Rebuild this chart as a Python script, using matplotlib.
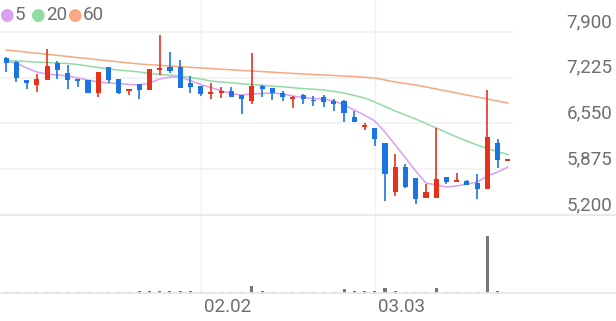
import matplotlib
matplotlib.use("Agg")
import matplotlib.pyplot as plt
import matplotlib.transforms as mtrans
import numpy as np

plt.rcParams['font.family'] = ['Roboto', 'DejaVu Sans']

# daily candles (open, high, low, close)
opens = [7520, 7460, 7190, 7120, 7190, 7440, 7300, 7210, 7190, 7000,
         7380, 7210, 7030, 7130, 7040, 7350, 7380, 7380, 7150, 7110,
         7000, 7000, 7030, 6970, 6880, 7100, 7070, 7000, 6930, 6970,
         6910, 6940, 6880, 6880, 6650, 6510, 6480, 6260, 5540, 5910,
         5750, 5450, 5450, 5760, 5700, 5700, 5670, 5580, 6260, 6010]
highs = [7530, 7470, 7190, 7280, 7650, 7470, 7410, 7210, 7190, 7310,
         7390, 7210, 7060, 7130, 7360, 7860, 7600, 7490, 7250, 7110,
         7150, 7090, 7090, 6970, 7590, 7120, 7080, 7030, 6950, 6980,
         6960, 6970, 6910, 6890, 6730, 6560, 6490, 6260, 6100, 5950,
         5750, 5660, 6480, 5760, 5820, 5710, 5800, 7040, 6320, 6010]
lows = [7310, 7160, 7060, 7010, 7190, 7200, 7060, 7090, 7000, 6940,
        7150, 6980, 6970, 6910, 7040, 7270, 7300, 7070, 7000, 6950,
        6910, 6930, 6940, 6690, 6840, 6940, 6900, 6880, 6780, 6840,
        6810, 6790, 6730, 6570, 6570, 6450, 6220, 5410, 5480, 5600,
        5360, 5450, 5450, 5660, 5700, 5640, 5440, 5580, 5890, 6010]
closes = [7440, 7220, 7150, 7210, 7400, 7340, 7190, 7180, 7000, 7310,
          7190, 7000, 7060, 7040, 7350, 7360, 7330, 7070, 7090, 6980,
          7010, 7030, 6940, 6910, 7100, 7060, 7000, 6940, 6940, 6910,
          6890, 6870, 6840, 6700, 6570, 6520, 6320, 5800, 5910, 5610,
          5440, 5540, 5730, 5690, 5710, 5640, 5580, 6350, 6010, 6010]
volumes = [44000, 40000, 40000, 42000, 44000, 44000, 60000, 44000, 44000, 44000,
           44000, 44000, 44000, 88000, 88000, 88000, 88000, 88000, 88000, 44000,
           44000, 40000, 40000, 44000, 307000, 88000, 44000, 40000, 40000, 40000,
           40000, 40000, 44000, 190000, 88000, 88000, 88000, 205000, 88000, 44000,
           40000, 44000, 205000, 44000, 40000, 40000, 44000, 2500000, 100000, 0]

# moving averages as drawn
ma5 = [7472, 7443, 7369, 7310, 7280, 7266, 7251, 7221, 7192, 7162,
       7148, 7140, 7125, 7118, 7148, 7207, 7236, 7236, 7184, 7125,
       7081, 7030, 6993, 6970, 6985, 6993, 7000, 6985, 6956, 6934,
       6919, 6911, 6882, 6823, 6749, 6675, 6587, 6425, 6233, 6041,
       5849, 5672, 5643, 5613, 5628, 5657, 5687, 5775, 5834, 5908]
ma20 = [7480, 7472, 7465, 7457, 7450, 7443, 7435, 7420, 7398, 7376,
        7354, 7339, 7325, 7310, 7288, 7273, 7263, 7251, 7229, 7207,
        7177, 7162, 7150, 7137, 7125, 7114, 7103, 7092, 7078, 7066,
        7056, 7044, 7022, 7000, 6963, 6926, 6867, 6801, 6734, 6675,
        6616, 6550, 6484, 6417, 6351, 6292, 6233, 6181, 6137, 6092]
ma60 = [7634, 7620, 7602, 7587, 7571, 7555, 7539, 7522, 7508, 7491,
        7475, 7459, 7443, 7428, 7418, 7409, 7398, 7388, 7379, 7369,
        7360, 7351, 7342, 7333, 7325, 7316, 7307, 7298, 7289, 7280,
        7273, 7266, 7258, 7251, 7243, 7233, 7221, 7192, 7162, 7140,
        7118, 7089, 7059, 7030, 7000, 6970, 6941, 6911, 6882, 6852]

price_ticks = [7900, 7225, 6550, 5875, 5200]
date_ticks = [19, 36]
date_labels = ['02.02', '03.03']

RED = '#e8311a'
BLUE = '#1b74e4'
GRID = '#f1f1f1'
TXT = '#6e6e6e'

W, H = 616, 321
fig = plt.figure(figsize=(W / 100, H / 100), dpi=100)

ax = fig.add_axes([1 / W, (H - 215) / H, 512 / W, 183 / H])
axv = fig.add_axes([1 / W, (H - 293) / H, 512 / W, 78 / H])

n = len(opens)
x = np.arange(n)
o = np.array(opens)
c = np.array(closes)
up = c >= o
cols = np.where(up, RED, BLUE)

# grid
ax.hlines(price_ticks[:-1], -0.6, n - 0.5, color=GRID, lw=1.2, clip_on=False, zorder=0)
for xi in date_ticks:
    ax.axvline(xi, ymin=0, ymax=32 / 183 + 1, color=GRID, lw=1, clip_on=False, zorder=0)
    axv.axvline(xi, color=GRID, lw=1, zorder=0)

# candles
ax.vlines(x, lows, highs, colors=cols, lw=1.2, zorder=2)
body_lo = np.minimum(o, c)
body_h = np.maximum(np.abs(c - o), 28)
ax.bar(x, body_h, bottom=body_lo - np.where(np.abs(c - o) < 28, 14, 0), width=0.5,
       color=cols, zorder=3, lw=0)

ax.plot(x, ma60, color='#f8a882', lw=1.1, zorder=1)
ax.plot(x, ma20, color='#93dba3', lw=1.1, zorder=1)
ax.plot(x, ma5, color='#d8a0ee', lw=1.1, zorder=1)

ax.set_xlim(-0.5, n - 0.5)
ax.set_ylim(5200, 7900)
ax.axis('off')

# price labels on the right
tr = mtrans.blended_transform_factory(fig.transFigure, ax.transData)
tr = mtrans.offset_copy(tr, fig=fig, x=0, y=5, units='dots')
for p in price_ticks:
    ax.text(612 / W, p, f'{p:,}', transform=tr, ha='right', va='baseline',
            fontsize=13.5, color=TXT)

# legend
lx = [6, 37, 74]
for xx, lab, col in zip(lx, ['5', '20', '60'], ['#d8a0ee', '#93dba3', '#f8a882']):
    fig.text(xx / W, 1 - 15 / H, '\u25cf', color=col, fontsize=12, ha='center', va='center')
    fig.text((xx + 9) / W, 1 - 15 / H, lab, color=TXT, fontsize=13.5, ha='left', va='center')

# volume
axv.bar(x, volumes, width=0.3, color='#777777', zorder=2)
axv.set_xlim(-0.5, n - 0.5)
axv.set_ylim(0, 3420000)
axv.axis('off')

for xi, lab in zip(date_ticks, date_labels):
    axv.text(xi, -0.06, lab, transform=mtrans.offset_copy(axv.get_xaxis_transform(), fig=fig, x=3, y=0, units='dots'),
             ha='left', va='top', fontsize=13.5, color=TXT)

# panel border lines
fig.add_artist(plt.Line2D([0, 1], [(H - 215) / H] * 2, color='#e6e6e6', lw=1.2))
fig.add_artist(plt.Line2D([0, 1], [(H - 293) / H] * 2, color='#e6e6e6', lw=1.2))

fig.savefig('out.png', dpi=100)
